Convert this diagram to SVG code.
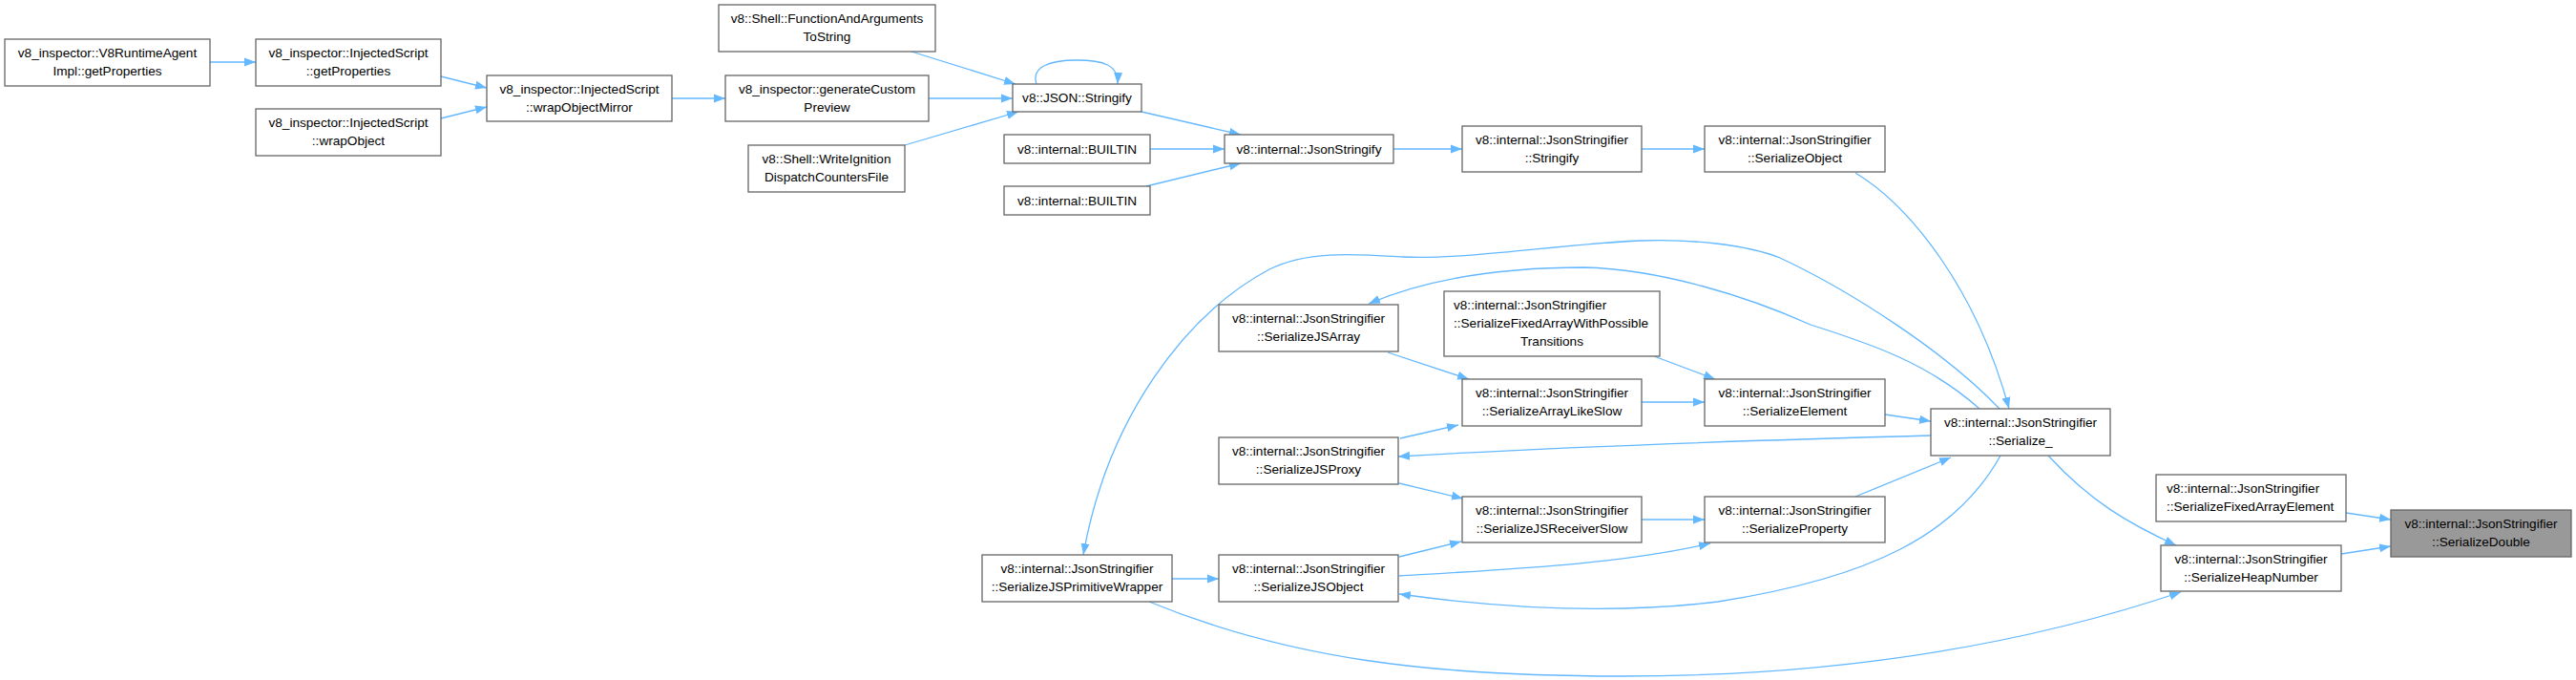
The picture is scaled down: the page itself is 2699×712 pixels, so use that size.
<svg xmlns="http://www.w3.org/2000/svg" width="2699" height="712" viewBox="0 0 2699 712">
<style>
.n rect{fill:#ffffff;stroke:#666666;stroke-width:1.3}
.n.h rect{fill:#999999;stroke:#666666}
.n text{font-family:"Liberation Sans",Arial,sans-serif;font-size:13.6px;fill:#000000;text-anchor:middle}
.n text.l{text-anchor:start}
.e path{fill:none;stroke:#63b8ff;stroke-width:1.3}
</style>
<defs>
<marker id="a" markerWidth="13" markerHeight="10" refX="12" refY="5" orient="auto" markerUnits="userSpaceOnUse"><path d="M0,0.5 L12,5 L0,9.5 z" fill="#63b8ff"/></marker>
</defs>
<rect width="2699" height="712" fill="#ffffff"/>
<g id="edges" class="e">
<path marker-end="url(#a)" d="M220,65 L268,65"/>
<path marker-end="url(#a)" d="M462,80 L510,92"/>
<path marker-end="url(#a)" d="M462,124 L510,112"/>
<path marker-end="url(#a)" d="M704,103 L760,103"/>
<path marker-end="url(#a)" d="M973,103 L1061,103"/>
<path marker-end="url(#a)" d="M955,54 L1064,88"/>
<path marker-end="url(#a)" d="M948,152 L1067,117"/>
<path marker-end="url(#a)" d="M1086,88 C1080,70 1100,63 1128,63 C1156,63 1172,68 1171,88"/>
<path marker-end="url(#a)" d="M1196,117 L1300,141"/>
<path marker-end="url(#a)" d="M1205,156 L1283,156"/>
<path marker-end="url(#a)" d="M1201,195 L1300,171"/>
<path marker-end="url(#a)" d="M1460,156 L1532,156"/>
<path marker-end="url(#a)" d="M1720,156 L1786,156"/>
<path marker-end="url(#a)" d="M1944,181 C2000,215 2070,300 2105,428"/>
<path marker-end="url(#a)" d="M1733,373 L1797,397"/>
<path marker-end="url(#a)" d="M1454,369 L1539,397"/>
<path marker-end="url(#a)" d="M1467,459 L1528,445"/>
<path marker-end="url(#a)" d="M1720,421 L1786,421"/>
<path marker-end="url(#a)" d="M1975,434 L2023,441"/>
<path marker-end="url(#a)" d="M2023,456 C1800,462 1600,470 1465,478"/>
<path marker-end="url(#a)" d="M2074,428 C2020,380 1960,360 1897,340 C1830,310 1740,282 1660,280 C1580,280 1500,290 1434,318"/>
<path marker-end="url(#a)" d="M2095,428 C2040,370 1940,305 1865,270 C1830,256 1770,250 1719,252 C1640,255 1540,272 1470,269 C1420,266 1370,262 1330,282 C1240,330 1160,440 1135,581"/>
<path marker-end="url(#a)" d="M2096,477 C2050,560 1960,605 1800,630 C1680,645 1560,635 1466,622"/>
<path marker-end="url(#a)" d="M1944,520 L2044,479"/>
<path marker-end="url(#a)" d="M1720,544 L1786,544"/>
<path marker-end="url(#a)" d="M1466,506 L1533,522"/>
<path marker-end="url(#a)" d="M1466,583 L1531,567"/>
<path marker-end="url(#a)" d="M1466,603 C1600,595 1700,590 1792,569"/>
<path marker-end="url(#a)" d="M1228,606 L1277,606"/>
<path marker-end="url(#a)" d="M1204,630 C1350,690 1500,708 1700,708 C1900,708 2100,682 2285,620"/>
<path marker-end="url(#a)" d="M2146,477 C2190,525 2230,548 2280,571"/>
<path marker-end="url(#a)" d="M2458,537 L2505,544"/>
<path marker-end="url(#a)" d="M2453,580 L2505,572"/>
</g>
<g id="n1" class="n"><rect x="5" y="41" width="215" height="49"/><text x="112.5" y="60">v8_inspector::V8RuntimeAgent</text><text x="112.5" y="79">Impl::getProperties</text></g>
<g id="n2" class="n"><rect x="268" y="41" width="194" height="49"/><text x="365" y="60">v8_inspector::InjectedScript</text><text x="365" y="79">::getProperties</text></g>
<g id="n3" class="n"><rect x="268" y="114" width="194" height="49"/><text x="365" y="133">v8_inspector::InjectedScript</text><text x="365" y="152">::wrapObject</text></g>
<g id="n4" class="n"><rect x="510" y="79" width="194" height="48"/><text x="607" y="98">v8_inspector::InjectedScript</text><text x="607" y="117">::wrapObjectMirror</text></g>
<g id="n5" class="n"><rect x="760" y="79" width="213" height="48"/><text x="866.5" y="98">v8_inspector::generateCustom</text><text x="866.5" y="117">Preview</text></g>
<g id="n6" class="n"><rect x="753" y="5" width="227" height="49"/><text x="866.5" y="24">v8::Shell::FunctionAndArguments</text><text x="866.5" y="43">ToString</text></g>
<g id="n7" class="n"><rect x="784" y="152" width="164" height="49"/><text x="866" y="171">v8::Shell::WriteIgnition</text><text x="866" y="190">DispatchCountersFile</text></g>
<g id="n8" class="n"><rect x="1061" y="88" width="135" height="29"/><text x="1128.5" y="107">v8::JSON::Stringify</text></g>
<g id="n9" class="n"><rect x="1052" y="141" width="153" height="30"/><text x="1128.5" y="161">v8::internal::BUILTIN</text></g>
<g id="n10" class="n"><rect x="1052" y="195" width="153" height="30"/><text x="1128.5" y="215">v8::internal::BUILTIN</text></g>
<g id="n11" class="n"><rect x="1283" y="141" width="177" height="30"/><text x="1371.5" y="161">v8::internal::JsonStringify</text></g>
<g id="n12" class="n"><rect x="1532" y="132" width="188" height="48"/><text x="1626" y="151">v8::internal::JsonStringifier</text><text x="1626" y="170">::Stringify</text></g>
<g id="n13" class="n"><rect x="1786" y="132" width="189" height="48"/><text x="1880.5" y="151">v8::internal::JsonStringifier</text><text x="1880.5" y="170">::SerializeObject</text></g>
<g id="n14" class="n"><rect x="1277" y="319" width="188" height="49"/><text x="1371" y="338">v8::internal::JsonStringifier</text><text x="1371" y="357">::SerializeJSArray</text></g>
<g id="n15" class="n"><rect x="1513" y="305" width="226" height="68"/><text class="l" x="1523" y="324">v8::internal::JsonStringifier</text><text class="l" x="1523" y="343">::SerializeFixedArrayWithPossible</text><text x="1626" y="362">Transitions</text></g>
<g id="n16" class="n"><rect x="1532" y="397" width="188" height="49"/><text x="1626" y="416">v8::internal::JsonStringifier</text><text x="1626" y="435">::SerializeArrayLikeSlow</text></g>
<g id="n17" class="n"><rect x="1786" y="397" width="189" height="49"/><text x="1880.5" y="416">v8::internal::JsonStringifier</text><text x="1880.5" y="435">::SerializeElement</text></g>
<g id="n18" class="n"><rect x="1277" y="458" width="188" height="49"/><text x="1371" y="477">v8::internal::JsonStringifier</text><text x="1371" y="496">::SerializeJSProxy</text></g>
<g id="n19" class="n"><rect x="1532" y="520" width="188" height="48"/><text x="1626" y="539">v8::internal::JsonStringifier</text><text x="1626" y="558">::SerializeJSReceiverSlow</text></g>
<g id="n20" class="n"><rect x="1786" y="520" width="189" height="48"/><text x="1880.5" y="539">v8::internal::JsonStringifier</text><text x="1880.5" y="558">::SerializeProperty</text></g>
<g id="n21" class="n"><rect x="1029" y="581" width="199" height="49"/><text x="1128.5" y="600">v8::internal::JsonStringifier</text><text x="1128.5" y="619">::SerializeJSPrimitiveWrapper</text></g>
<g id="n22" class="n"><rect x="1277" y="581" width="188" height="49"/><text x="1371" y="600">v8::internal::JsonStringifier</text><text x="1371" y="619">::SerializeJSObject</text></g>
<g id="n23" class="n"><rect x="2023" y="428" width="188" height="49"/><text x="2117" y="447">v8::internal::JsonStringifier</text><text x="2117" y="466">::Serialize_</text></g>
<g id="n24" class="n"><rect x="2259" y="497" width="199" height="49"/><text class="l" x="2270" y="516">v8::internal::JsonStringifier</text><text class="l" x="2270" y="535">::SerializeFixedArrayElement</text></g>
<g id="n25" class="n"><rect x="2264" y="571" width="189" height="48"/><text x="2358.5" y="590">v8::internal::JsonStringifier</text><text x="2358.5" y="609">::SerializeHeapNumber</text></g>
<g id="n26" class="n h"><rect x="2505" y="534" width="189" height="49"/><text x="2599.5" y="553">v8::internal::JsonStringifier</text><text x="2599.5" y="572">::SerializeDouble</text></g>
</svg>
